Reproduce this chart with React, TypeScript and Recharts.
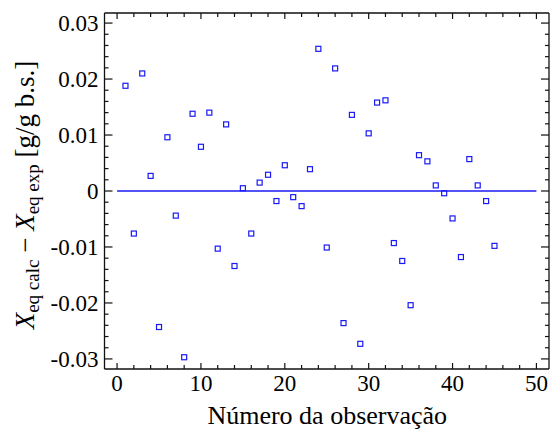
import React from 'react';
import { ScatterChart, Scatter, XAxis, YAxis, ReferenceLine, Customized } from 'recharts';

// observation number and residual X_eq calc - X_eq exp
const OBS = [
  1, 2, 3, 4, 5, 6, 7, 8, 9, 10, 11, 12, 13, 14, 15, 16, 17, 18, 19, 20, 21, 22, 23,
  24, 25, 26, 27, 28, 29, 30, 31, 32, 33, 34, 35, 36, 37, 38, 39, 40, 41, 42, 43, 44, 45,
];
const RESIDUAL = [
  0.0188, -0.0076, 0.021, 0.0027, -0.0243, 0.0096, -0.0044, -0.0297, 0.0138, 0.0079,
  0.014, -0.0103, 0.0119, -0.0134, 0.0005, -0.0076, 0.0015, 0.0029, -0.0018, 0.0046,
  -0.0011, -0.0027, 0.0039, 0.0254, -0.0101, 0.0219, -0.0236, 0.0136, -0.0273, 0.0103,
  0.0158, 0.0162, -0.0093, -0.0125, -0.0204, 0.0064, 0.0053, 0.001, -0.0004, -0.0049,
  -0.0118, 0.0057, 0.001, -0.0018, -0.0098,
];
const ZERO_LINE_X = [0, 50];

const X_TICKS = [0, 2, 4, 6, 8, 10, 12, 14, 16, 18, 20, 22, 24, 26, 28, 30, 32, 34, 36, 38, 40, 42, 44, 46, 48, 50];
const X_MAJOR = [0, 10, 20, 30, 40, 50];
const Y_TICKS = [
  -0.03, -0.028, -0.026, -0.024, -0.022, -0.02, -0.018, -0.016, -0.014, -0.012, -0.01,
  -0.008, -0.006, -0.004, -0.002, 0, 0.002, 0.004, 0.006, 0.008, 0.01, 0.012, 0.014,
  0.016, 0.018, 0.02, 0.022, 0.024, 0.026, 0.028, 0.03,
];
const Y_MAJOR = [-0.03, -0.02, -0.01, 0, 0.01, 0.02, 0.03];

const data = OBS.map((x, i) => ({ x, y: RESIDUAL[i] }));

const FONT = '"Liberation Serif", "Times New Roman", serif';
const BLUE = '#1a1af5';
const INK = '#111';
const X_DOMAIN = [-1.5, 51.5];
const Y_DOMAIN = [-0.0318, 0.0318];

// plot box in page pixels
const PLOT_TOP = 13;
const PLOT_LEFT = 104.5;
const PLOT_BOTTOM = 369;
const W = 550;
const H = 432;

const isMajor = (list: number[], v: number) => list.some((m) => Math.abs(m - v) < 1e-9);

// ticks point inwards, labels only on the majors
const bottomTick = (props: any) => {
  const { x, y, payload } = props;
  const major = isMajor(X_MAJOR, payload.value);
  return (
    <g>
      <line x1={x} x2={x} y1={y} y2={y - (major ? 6 : 4)} stroke={INK} strokeWidth={1.2} />
      {major && (
        <text x={x} y={y + 22} textAnchor="middle" fontFamily={FONT} fontSize={23} fill="#000">
          {payload.value}
        </text>
      )}
    </g>
  );
};

const topTick = (props: any) => {
  const { x, y, payload } = props;
  const major = isMajor(X_MAJOR, payload.value);
  return <line x1={x} x2={x} y1={y} y2={y + (major ? 6 : 4)} stroke={INK} strokeWidth={1.2} />;
};

const leftTick = (props: any) => {
  const { x, y, payload } = props;
  const major = isMajor(Y_MAJOR, payload.value);
  return (
    <g>
      <line x1={x} x2={x + (major ? 8 : 4)} y1={y} y2={y} stroke={INK} strokeWidth={1.2} />
      {major && (
        <text x={x - 6} y={y} dy="0.35em" textAnchor="end" fontFamily={FONT} fontSize={23} fill="#000">
          {String(payload.value)}
        </text>
      )}
    </g>
  );
};

const rightTick = (props: any) => {
  const { x, y, payload } = props;
  const major = isMajor(Y_MAJOR, payload.value);
  return <line x1={x} x2={x - (major ? 8 : 4)} y1={y} y2={y} stroke={INK} strokeWidth={1.2} />;
};

const square = (props: any) => {
  const { cx, cy } = props;
  return <rect x={cx - 2.5} y={cy - 2.5} width={5} height={5} fill="none" stroke={BLUE} strokeWidth={1.2} />;
};

const Titles = () => {
  const cx = 33.5;
  const cy = (PLOT_TOP + PLOT_BOTTOM) / 2 + 4;
  return (
    <g>
      <text
        x={cx}
        y={cy}
        transform={`rotate(-90, ${cx}, ${cy})`}
        textAnchor="middle"
        fontFamily={FONT}
        fontSize={27}
        fill="#000"
        style={{ whiteSpace: 'pre' }}
      >
        <tspan fontStyle="italic">X</tspan>
        <tspan fontSize={19} dy={5}>eq calc</tspan>
        <tspan dy={-5}> − </tspan>
        <tspan fontStyle="italic">X</tspan>
        <tspan fontSize={19} dy={5}>eq exp</tspan>
        <tspan dy={-5}> [g/g b.s.]</tspan>
      </text>
      <text x={(PLOT_LEFT + W) / 2} y={PLOT_BOTTOM + 55} textAnchor="middle" fontFamily={FONT} fontSize={26} fill="#000">
        Número da observação
      </text>
    </g>
  );
};

export default function App() {
  return (
    <div style={{ position: 'absolute', left: 0, top: 0, width: W, height: H, background: '#fff', fontFamily: FONT }}>
      <ScatterChart width={W} height={H} margin={{ top: PLOT_TOP - 1, right: 0, bottom: 0, left: 0 }}>
        <XAxis
          xAxisId="b"
          type="number"
          dataKey="x"
          domain={X_DOMAIN}
          allowDataOverflow
          ticks={X_TICKS}
          interval={0}
          height={H - PLOT_BOTTOM}
          tickSize={0}
          tickMargin={0}
          tickLine={false}
          tick={bottomTick}
          axisLine={{ stroke: INK, strokeWidth: 1.3 }}
        />
        <XAxis
          xAxisId="t"
          orientation="top"
          type="number"
          dataKey="x"
          domain={X_DOMAIN}
          allowDataOverflow
          ticks={X_TICKS}
          interval={0}
          height={1}
          tickSize={0}
          tickMargin={0}
          tickLine={false}
          tick={topTick}
          axisLine={{ stroke: INK, strokeWidth: 1.3 }}
        />
        <YAxis
          yAxisId="l"
          type="number"
          dataKey="y"
          domain={Y_DOMAIN}
          allowDataOverflow
          ticks={Y_TICKS}
          interval={0}
          width={PLOT_LEFT}
          tickSize={0}
          tickMargin={0}
          tickLine={false}
          tick={leftTick}
          axisLine={{ stroke: INK, strokeWidth: 1.3 }}
        />
        <YAxis
          yAxisId="r"
          orientation="right"
          type="number"
          dataKey="y"
          domain={Y_DOMAIN}
          allowDataOverflow
          ticks={Y_TICKS}
          interval={0}
          width={1}
          tickSize={0}
          tickMargin={0}
          tickLine={false}
          tick={rightTick}
          axisLine={{ stroke: INK, strokeWidth: 1.3 }}
        />
        <ReferenceLine
          xAxisId="b"
          yAxisId="l"
          segment={[
            { x: ZERO_LINE_X[0], y: 0 },
            { x: ZERO_LINE_X[1], y: 0 },
          ]}
          stroke={BLUE}
          strokeWidth={1.3}
        />
        <Scatter xAxisId="b" yAxisId="l" data={data} shape={square} isAnimationActive={false} />
        {/* hidden copy so the mirrored top/right axes get a domain */}
        <Scatter xAxisId="t" yAxisId="r" data={data} shape={() => <g />} isAnimationActive={false} legendType="none" />
        <Customized component={Titles} />
      </ScatterChart>
    </div>
  );
}
